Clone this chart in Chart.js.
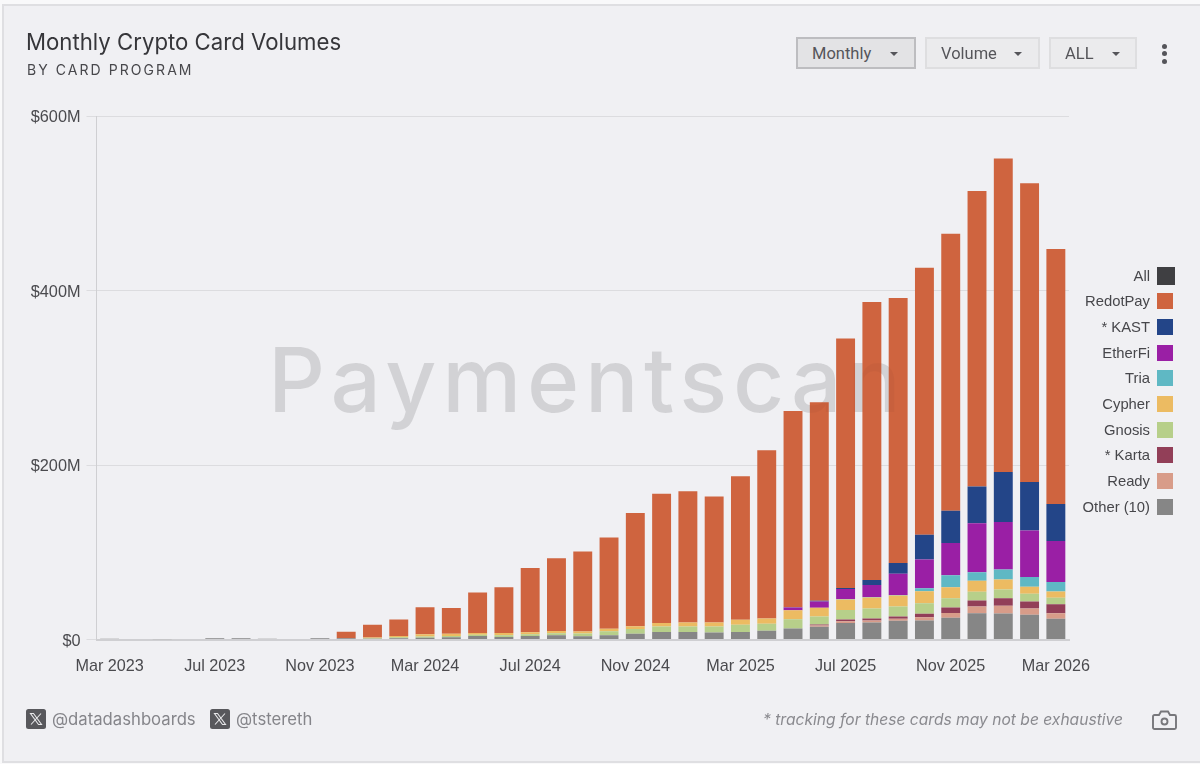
<!DOCTYPE html>
<html>
<head>
<meta charset="utf-8">
<title>Monthly Crypto Card Volumes</title>
<script src="https://cdn.jsdelivr.net/npm/chart.js@4"></script>
<style>
  html, body { margin: 0; padding: 0; background: #f9f9fa; }
  body { position: relative; width: 1200px; height: 764px; overflow: hidden; font-family: Inter, sans-serif; }
  #card { position: absolute; left: 2px; top: 4px; width: 1198px; height: 755px; background: #f0f0f3; border: solid #dfdfe2; border-width: 2px 0 2px 2px; }
  #chart { position: absolute; left: 0; top: 0; }
  .abs { position: absolute; white-space: nowrap; }
  #title { left: 26px; top: 28px; font-size: 22.2px; line-height: 28px; color: #36363a; }
  #subtitle { left: 27px; top: 61px; font-size: 14px; line-height: 18px; letter-spacing: 2.06px; color: #48484c; }
  .btn { box-sizing: border-box; height: 32px; top: 37px; background: #ebebed; border: 2px solid #dedee0; font: 16.5px/29px Roboto, sans-serif; color: #55555a; padding-left: 14px; }
  .btn.on { background: #e3e3e5; border-color: #bdbdc0; }
  .btn i { position: absolute; top: 13px; width: 0; height: 0; border: 4px solid transparent; border-top: 4px solid #55555a; border-bottom: 0; }
  .dot { left: 1161.5px; width: 5px; height: 5px; border-radius: 50%; background: #55555a; }
  .leg-label { right: 50px; font: 14.8px/20px "Liberation Sans", sans-serif; color: #47474b; }
  .leg-box { left: 1157px; }
  .handle { font-size: 16.7px; line-height: 20px; color: #85858a; top: 709px; }
  .xicon { top: 709px; width: 20px; height: 20px; }
  #note { left: 763px; top: 710px; font-size: 15.6px; line-height: 20px; font-style: italic; color: #8a8a8f; }
</style>
</head>
<body>
<div id="card"></div>
<canvas id="chart" width="1200" height="764"></canvas>

<div class="abs" id="title">Monthly Crypto Card Volumes</div>
<div class="abs" id="subtitle">BY CARD PROGRAM</div>

<div class="abs btn on" style="left:796px;width:120px">Monthly<i style="left:92px"></i></div>
<div class="abs btn" style="left:925px;width:115px">Volume<i style="left:87px"></i></div>
<div class="abs btn" style="left:1049px;width:88px">ALL<i style="left:61px"></i></div>
<div class="abs dot" style="top:43.500px"></div>
<div class="abs dot" style="top:51px"></div>
<div class="abs dot" style="top:59px"></div>

<div id="legend"></div>

<svg class="abs xicon" style="left:26px" viewBox="0 0 20 20"><rect width="20" height="20" rx="2.5" fill="#58585c"/><path d="M4.5 4.5h3l8 11h-3zM15 4.5l-10 11" fill="none" stroke="#e8e8ea" stroke-width="1.1"/></svg>
<div class="abs handle" style="left:52px">@datadashboards</div>
<svg class="abs xicon" style="left:210px" viewBox="0 0 20 20"><rect width="20" height="20" rx="2.5" fill="#58585c"/><path d="M4.5 4.5h3l8 11h-3zM15 4.5l-10 11" fill="none" stroke="#e8e8ea" stroke-width="1.1"/></svg>
<div class="abs handle" style="left:236px">@tstereth</div>
<div class="abs" id="note">* tracking for these cards may not be exhaustive</div>
<svg class="abs" style="left:1152px;top:710px" width="25" height="21" viewBox="0 0 25 21"><path d="M2.5 5h4.5l2-3.500h7l2 3.500h4.500a1.500 1.500 0 0 1 1.500 1.500v11a1.500 1.500 0 0 1-1.500 1.500h-20a1.500 1.500 0 0 1-1.500-1.500v-11a1.500 1.500 0 0 1 1.500-1.500z" fill="none" stroke="#77777b" stroke-width="1.900"/><circle cx="12.500" cy="11.500" r="3" fill="none" stroke="#77777b" stroke-width="1.900"/></svg>

<script>
// Mar 2023 .. Mar 2026, one label per bar, every 4th one shown on the axis
const months = [
  'Mar 2023', 'Apr 2023', 'May 2023', 'Jun 2023', 'Jul 2023', 'Aug 2023', 'Sep 2023', 'Oct 2023', 'Nov 2023', 'Dec 2023',
  'Jan 2024', 'Feb 2024', 'Mar 2024', 'Apr 2024', 'May 2024', 'Jun 2024', 'Jul 2024', 'Aug 2024', 'Sep 2024', 'Oct 2024', 'Nov 2024', 'Dec 2024',
  'Jan 2025', 'Feb 2025', 'Mar 2025', 'Apr 2025', 'May 2025', 'Jun 2025', 'Jul 2025', 'Aug 2025', 'Sep 2025', 'Oct 2025', 'Nov 2025', 'Dec 2025',
  'Jan 2026', 'Feb 2026', 'Mar 2026'
];

// values in $M
const other = [1, 0.5, 0.2, 0.5, 1.5, 1.5, 1, 0.7, 1.5, 1.5, 1, 1.5, 2, 2.5, 4, 3, 4, 5, 3.8, 5, 6.5, 8.5, 8.5, 8, 8.5, 10, 12.6, 14.5, 19, 19.5, 21.4, 21.8, 24.8, 30.2, 29.8, 28.3, 23.7];
const ready = [0, 0, 0, 0, 0, 0, 0, 0, 0, 0, 0, 0, 0, 0, 0, 0, 0, 0, 0, 0, 0, 0, 0, 0, 0, 0, 0, 1.5, 2, 2.3, 2.3, 3.8, 5.7, 7.6, 8.8, 7.3, 6.5];
const karta = [0, 0, 0, 0, 0, 0, 0, 0, 0, 0, 0, 0, 0, 0, 0, 0, 0, 0, 0, 0, 0, 0, 0, 0, 0, 0, 0, 1.1, 2, 2.3, 2.7, 3.8, 6.1, 6.9, 8.8, 8, 10.3];
const gnosis = [0, 0, 0, 0, 0, 0, 0, 0, 0, 0, 0.4, 1, 1.5, 1.5, 1.5, 2, 2, 2.3, 3, 4.5, 5.5, 6.5, 6.5, 7, 8.5, 8, 10.7, 9.2, 10.7, 11.5, 11.5, 12.2, 10.7, 9.9, 9.9, 8.8, 7.3];
const cypher = [0, 0, 0, 0, 0, 0, 0, 0, 0, 0, 0.8, 1.5, 2.5, 2.5, 2, 2.5, 2.2, 2.3, 2.3, 2.7, 3.3, 4, 4.5, 4.5, 5.5, 6, 10.3, 10, 12.2, 12.6, 12.6, 13.8, 12.6, 12.6, 11.5, 8, 7.3];
const tria = [0, 0, 0, 0, 0, 0, 0, 0, 0, 0, 0, 0, 0, 0, 0, 0, 0, 0, 0, 0, 0, 0, 0, 0, 0, 0, 0, 0, 0.5, 0.5, 0.5, 3.4, 13.8, 9.9, 11.5, 11.1, 10.7];
const etherfi = [0, 0, 0, 0, 0, 0, 0, 0, 0, 0, 0, 0, 0, 0, 0, 0, 0, 0, 0, 0, 0, 0, 0, 0, 0, 0, 3, 7.3, 11.5, 13.8, 24.5, 32.9, 37, 56, 54.3, 53.5, 47];
const kast = [0, 0, 0, 0, 0, 0, 0, 0, 0, 0, 0, 0, 0, 0, 0, 0, 0, 0, 0, 0, 0, 0, 0, 0, 0, 0, 0.5, 0.8, 1.1, 5.7, 12.2, 28.3, 37, 42.4, 57.3, 55.4, 42.4];
const redotpay = [0, 0, 0, 0, 0, 0, 0, 0, 0, 7.5, 14.8, 19, 31, 29.5, 46.5, 52.5, 73.8, 83.4, 91.9, 104.8, 129.7, 148, 150.5, 144.5, 164.5, 193, 224.9, 227.6, 286, 318.7, 303.8, 306, 317.3, 338.5, 359.3, 342.5, 292.3];

// legend order, top to bottom ("All" has no bars of its own)
const legendNames = ['All', 'RedotPay', '* KAST', 'EtherFi', 'Tria', 'Cypher', 'Gnosis', '* Karta', 'Ready', 'Other (10)'];
const legendColors = ['#3f3f42', '#cf643f', '#234588', '#9a1fa5', '#5fb8c4', '#ecbb62', '#b7cf8a', '#923f58', '#d89c89', '#868686'];
const seriesValues = [null, redotpay, kast, etherfi, tria, cypher, gnosis, karta, ready, other];

const datasets = [];
legendNames.forEach((name, i) => {
  if (!seriesValues[i]) return;
  // stack bottom-up, so the last legend entry goes first
  datasets.unshift({ label: name, data: seriesValues[i], backgroundColor: legendColors[i], stack: 'cards' });
});

function drawWatermark(chart, alpha) {
  const ctx = chart.ctx;
  ctx.save();
  ctx.font = '500 89px Inter';
  ctx.letterSpacing = '5.7px';
  ctx.textBaseline = 'alphabetic';
  ctx.fillStyle = `rgba(0,0,0,${alpha})`;
  ctx.fillText('Paymentscan', 268, 412);
  ctx.restore();
}

// mostly behind the bars, with a faint trace on top of them
const watermarkPlugin = {
  id: 'watermark',
  beforeDatasetsDraw(chart) { drawWatermark(chart, 0.095); },
  afterDatasetsDraw(chart) { drawWatermark(chart, 0.03); }
};

new Chart(document.getElementById('chart'), {
  type: 'bar',
  data: { labels: months, datasets },
  plugins: [watermarkPlugin],
  options: {
    responsive: false,
    animation: false,
    events: [],
    barPercentage: 0.72,
    categoryPercentage: 1,
    layout: { padding: { left: 0, top: 116, right: 131, bottom: 0 } },
    plugins: { legend: { display: false }, tooltip: { enabled: false } },
    scales: {
      x: {
        stacked: true,
        afterFit(scale) { scale.height = 124.5; },
        grid: { display: false },
        border: { color: '#cfcfd2', width: 2 },
        ticks: {
          autoSkip: false,
          maxRotation: 0,
          padding: 9,
          color: '#4a4a4e',
          font: { family: '"Liberation Sans"', size: 16.2 },
          callback(value, index) { return index % 4 === 0 ? this.getLabelForValue(value) : ''; }
        }
      },
      y: {
        stacked: true,
        min: 0,
        max: 600,
        afterFit(scale) { scale.width = 96.5; },
        grid: { color: '#dcdcdf', tickLength: 10 },
        border: { color: '#cfcfd2' },
        ticks: {
          stepSize: 200,
          padding: 6,
          labelOffset: 2,
          color: '#4a4a4e',
          font: { family: '"Liberation Sans"', size: 16.3 },
          callback(value) { return value === 0 ? '$0' : '$' + value + 'M'; }
        }
      }
    }
  }
});

// html legend: label on the left of the box, right aligned
const legendEl = document.getElementById('legend');
legendNames.forEach((name, i) => {
  const y = 275.5 + i * 25.67;
  const box = i === 0 ? 18 : 16;
  legendEl.innerHTML += `
    <div class="abs leg-label" style="top:${y - 10}px">${name}</div>
    <div class="abs leg-box" style="top:${y - box / 2}px;width:${box}px;height:${box}px;background:${legendColors[i]}"></div>`;
});
</script>
</body>
</html>
